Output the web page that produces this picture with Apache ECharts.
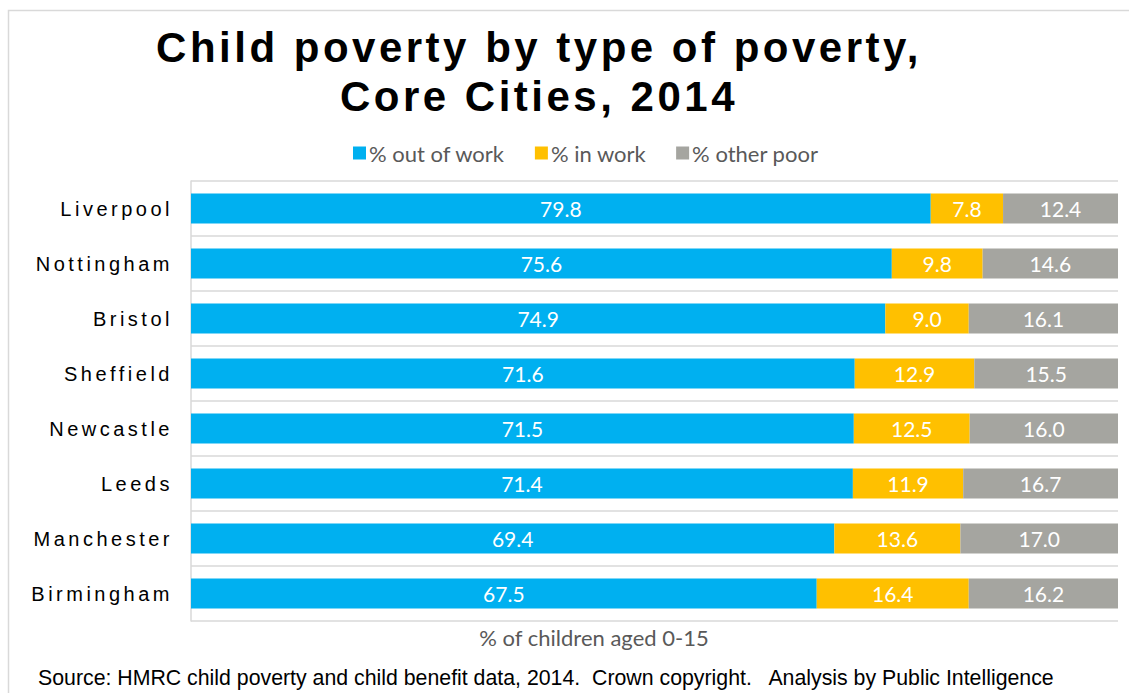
<!DOCTYPE html>
<html>
<head>
<meta charset="utf-8">
<script src="https://cdn.jsdelivr.net/npm/echarts@6/dist/echarts.min.js"></script>
<style>
html,body{margin:0;padding:0;background:#fff;}
#chart{width:1129px;height:693px;}
#chart text[style*="Liberation Sans"]{letter-spacing:3.5px;}
</style>
</head>
<body>
<div id="chart"></div>
<script>
const categories = ["Liverpool","Nottingham","Bristol","Sheffield","Newcastle","Leeds","Manchester","Birmingham"];
const seriesNames = ["% out of work","% in work","% other poor"];
const outOfWork = [79.8,75.6,74.9,71.6,71.5,71.4,69.4,67.5];
const inWork = [7.8,9.8,9.0,12.9,12.5,11.9,13.6,16.4];
const otherPoor = [12.4,14.6,16.1,15.5,16.0,16.7,17.0,16.2];
const colors = ["#00B0F0","#FFC000","#A5A5A0"];
const titleText = "Child poverty by type of poverty,\nCore Cities, 2014";
const axisName = "% of children aged 0-15";
const sourceText = "Source: HMRC child poverty and child benefit data, 2014.  Crown copyright.   Analysis by Public Intelligence";

const chart = echarts.init(document.getElementById('chart'), null, {renderer:'svg'});
const valueLists = [outOfWork, inWork, otherPoor];
const option = {
  animation:false,
  color: colors,
  title:{
    text:titleText,
    left:534, textAlign:'center', top:18,
    textStyle:{fontFamily:'Liberation Sans', fontWeight:'bold', fontSize:42, lineHeight:49, color:'#000'}
  },
  legend:{
    left:348, top:137, itemWidth:13, itemHeight:13, itemGap:30,
    icon:'rect',
    textStyle:{fontFamily:'Lato', fontSize:22, color:'#595959', padding:[0,0,0,-2]},
    data:seriesNames
  },
  grid:{left:191, right:11, top:181, bottom:72, containLabel:false},
  xAxis:{
    type:'value', min:0, max:100,
    axisLine:{show:false}, axisTick:{show:false}, axisLabel:{show:false}, splitLine:{show:false}
  },
  yAxis:{
    type:'category', data:categories, inverse:true,
    axisLine:{show:true, lineStyle:{color:'#d9d9d9', width:1.5}},
    axisTick:{show:false},
    splitLine:{show:true, lineStyle:{color:'#d9d9d9', width:1.5}},
    axisLabel:{fontFamily:'Liberation Sans', fontSize:20, color:'#000', margin:18}
  },
  graphic:[
    {type:'rect', shape:{x:8.5,y:10.5,width:1300,height:1000}, style:{fill:'none', stroke:'#d9d9d9', lineWidth:1.5}, silent:true},
    {type:'text', x:594, y:637, style:{text:axisName, fontFamily:'Lato', fontSize:22, fill:'#595959', align:'center', verticalAlign:'middle'}},
    {type:'text', x:38, y:678, style:{text:sourceText, fontFamily:'Arial', fontSize:21.3, fill:'#000', verticalAlign:'middle'}}
  ],
  series: seriesNames.map((n,i)=>({
    name:n, type:'bar', stack:'total', barWidth:30,
    data:valueLists[i],
    label:{show:true, position:'inside', color:'#fff', fontFamily:'Lato', fontSize:21,
      formatter:p=>p.value.toFixed(1)}
  }))
};
chart.setOption(option);
</script>
</body>
</html>
